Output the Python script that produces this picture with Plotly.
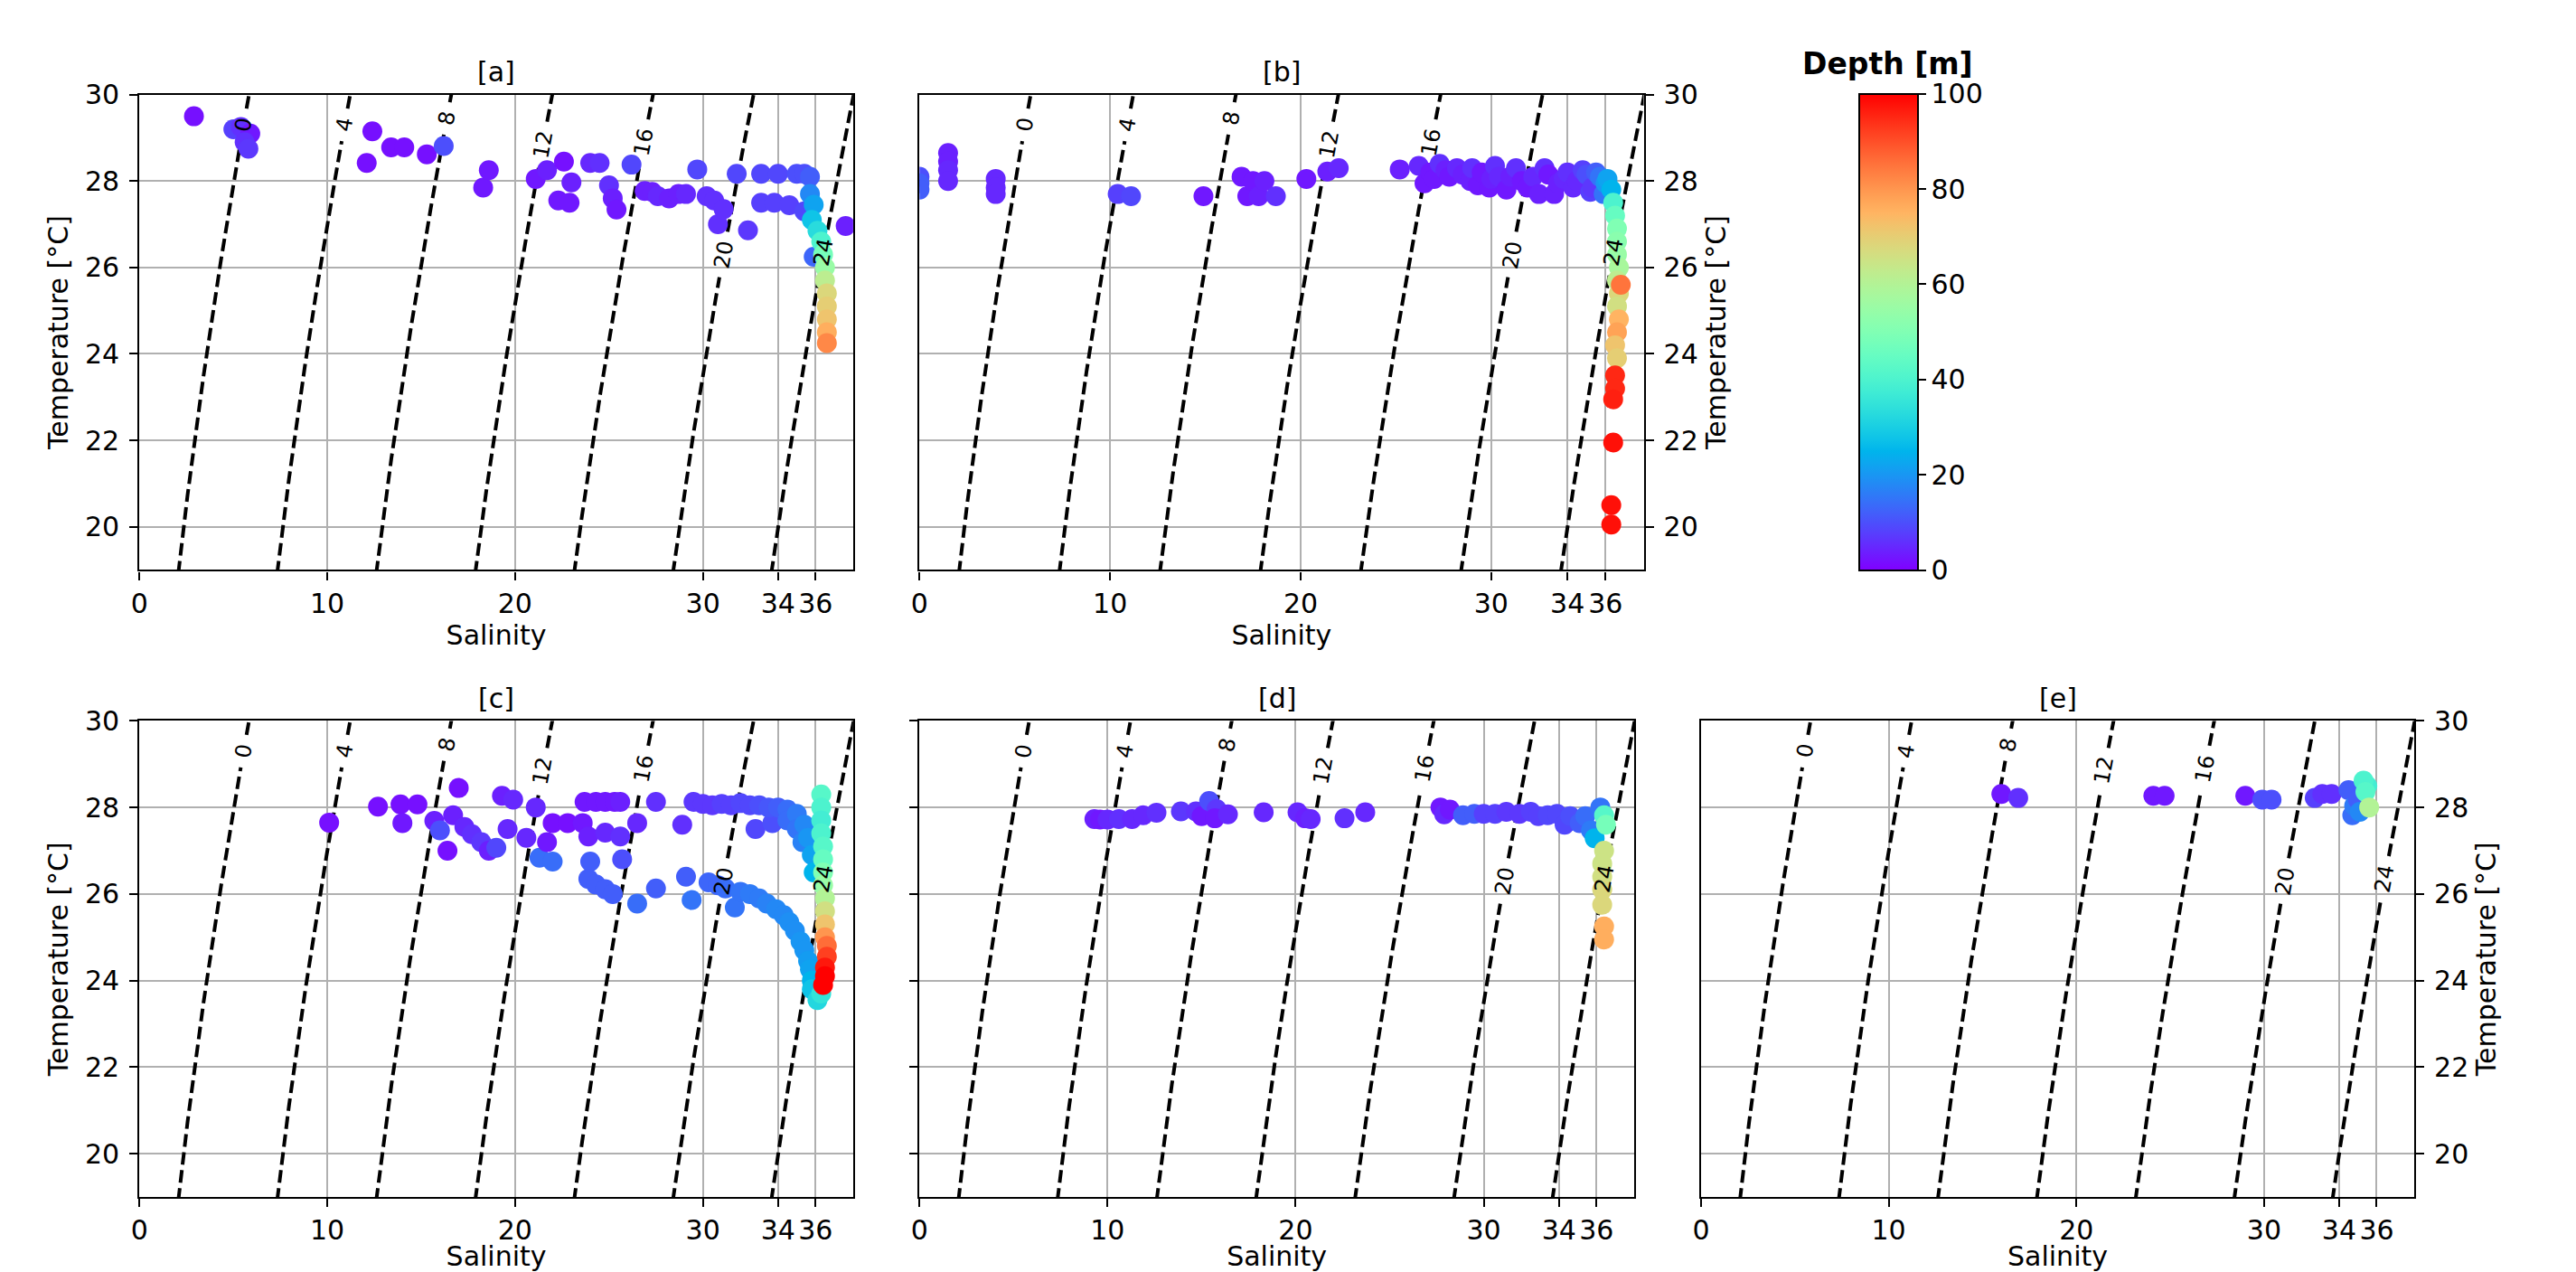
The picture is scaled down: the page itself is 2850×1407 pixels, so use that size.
import numpy as np
import plotly.graph_objects as go

# ------------------------- data -------------------------
sal_a = [2.9, 5.0, 5.4, 5.9, 5.6, 5.8, 12.4, 12.1, 13.4, 14.1, 15.3, 16.2, 18.3, 18.6,
         21.1, 21.7, 22.6, 22.3, 22.9, 23.0, 24.0, 24.5, 25.0, 25.2, 25.4, 26.2, 26.9,
         27.3, 27.6, 28.2, 28.7, 29.1, 29.7, 30.2, 30.6, 30.8, 31.1, 31.8, 32.4, 33.1,
         33.1, 33.8, 34.0, 34.6, 35.0, 35.4, 35.7, 35.4, 35.7, 35.9, 35.8, 36.1, 35.9,
         36.3, 36.4, 36.5, 36.5, 36.6, 36.6, 36.6, 36.6, 36.6, 37.6]
temp_a = [29.5, 29.2, 29.25, 29.1, 28.9, 28.75, 29.15, 28.42, 28.78, 28.78, 28.62, 28.81,
          27.85, 28.25, 28.05, 28.25, 28.45, 27.55, 27.5, 27.97, 28.42, 28.42, 27.9, 27.6,
          27.34, 28.38, 27.77, 27.75, 27.65, 27.6, 27.7, 27.7, 28.27, 27.65, 27.55, 27.0,
          27.35, 28.17, 26.86, 28.17, 27.5, 27.5, 28.17, 27.44, 28.17, 28.17, 28.1, 27.3,
          27.7, 27.45, 27.1, 26.85, 26.25, 26.6, 26.3, 26.0, 25.7, 25.4, 25.1, 24.8, 24.5,
          24.25, 26.96]
depth_a = [2, 8, 6, 3, 6, 7, 2, 2, 2, 2, 2, 10, 3, 3, 3, 4, 2, 3, 3, 4, 5, 6, 6, 4, 3, 9, 4,
           4, 5, 4, 4, 5, 9, 6, 6, 6, 6, 9, 7, 9, 8, 8, 9, 8, 10, 10, 12, 9, 18, 22, 28, 33,
           13, 40, 48, 55, 62, 68, 70, 72, 76, 82, 4]

sal_b = [0.0, 0.0, 0.0, 1.5, 1.5, 1.5, 1.5, 4.0, 4.0, 4.0, 10.4, 11.1, 14.9, 16.9, 17.2,
         17.5, 17.8, 18.1, 18.7, 20.3, 21.4, 22.0, 25.2, 26.2, 26.5, 26.8, 27.0, 27.3,
         27.6, 27.8, 28.2, 28.5, 28.9, 29.0, 29.3, 29.5, 29.9, 30.0, 30.2, 30.4, 30.8,
         31.0, 31.3, 31.6, 31.9, 32.2, 32.5, 32.8, 33.0, 33.3, 33.5, 33.8, 34.0, 34.3,
         34.5, 34.8, 35.0, 35.2, 35.3, 35.5, 35.7, 35.9, 36.0, 36.1, 36.3, 36.4, 36.5,
         36.6, 36.6, 36.6, 36.7, 36.6, 36.7, 36.6, 36.7, 36.6, 36.8, 36.5, 36.6, 36.5,
         36.5, 36.4, 36.4, 36.3, 36.3]
temp_b = [28.1, 27.95, 27.8, 28.65, 28.45, 28.25, 28.0, 28.05, 27.85, 27.7, 27.7, 27.65,
          27.65, 28.1, 27.65, 28.0, 27.65, 28.0, 27.65, 28.05, 28.22, 28.3, 28.27, 28.35,
          27.95, 28.2, 28.05, 28.4, 28.25, 28.1, 28.3, 28.15, 28.0, 28.3, 27.9, 28.2,
          27.85, 28.05, 28.35, 28.1, 27.8, 28.1, 28.3, 28.0, 27.85, 28.1, 27.7, 28.3,
          28.15, 27.7, 27.95, 28.05, 28.2, 27.85, 28.0, 28.25, 28.15, 27.75, 27.85, 28.2,
          28.1, 27.7, 27.95, 28.05, 27.8, 27.5, 27.2, 26.9, 26.6, 26.3, 26.0, 25.7, 25.4,
          25.1, 24.8, 24.5, 25.6, 24.2, 23.9, 23.5, 23.2, 22.95, 21.95, 20.5, 20.05]
depth_b = [10, 12, 12, 4, 4, 5, 5, 5, 5, 5, 8, 9, 3, 3, 3, 3, 4, 4, 6, 3, 4, 5, 4, 5, 3, 3,
           3, 6, 4, 3, 5, 4, 4, 6, 3, 3, 3, 4, 6, 5, 3, 4, 6, 3, 3, 5, 4, 6, 3, 4, 4, 5, 6,
           5, 5, 8, 10, 8, 7, 12, 15, 15, 20, 22, 25, 40, 45, 50, 52, 55, 58, 62, 68, 66,
           75, 78, 85, 72, 70, 95, 95, 96, 98, 98, 98]

sal_c = [10.1, 12.7, 13.9, 14.0, 14.8, 15.7, 16.0, 16.4, 16.7, 17.0, 17.3, 17.7, 18.2,
         18.6, 19.0, 19.3, 19.9, 19.6, 20.6, 21.1, 21.3, 21.7, 22.0, 22.0, 22.8, 23.6,
         23.7, 23.9, 24.0, 24.3, 24.8, 25.3, 25.6, 24.8, 25.6, 25.7, 26.5, 27.5, 28.9,
         29.5, 30.0, 30.5, 31.0, 31.5, 32.0, 32.5, 32.8, 33.0, 33.7, 33.5, 34.0, 34.5,
         34.5, 35.0, 35.0, 35.4, 35.3, 35.6, 35.8, 35.9,
         23.9, 24.3, 24.8, 25.2, 26.5, 27.5, 29.1, 29.4, 30.3, 30.8, 31.2, 31.7, 32.0,
         32.5, 33.0, 33.4, 33.9, 34.3, 34.6, 34.9, 35.2, 35.4, 35.6, 35.7, 35.8, 35.8,
         36.1, 36.3,
         36.3, 36.3, 36.3, 36.3, 36.4, 36.4, 36.4, 36.4, 36.5, 36.5, 36.5, 36.5, 36.6,
         36.6, 36.5, 36.5, 36.4]
temp_c = [27.65, 28.02, 28.07, 27.64, 28.07, 27.69, 27.47, 27.0, 27.82, 28.45, 27.55, 27.38,
          27.2, 27.0, 27.07, 28.27, 28.18, 27.5, 27.3, 28.0, 26.84, 27.2, 26.75, 27.64,
          27.64, 27.64, 28.13, 27.33, 26.75, 28.13, 28.13, 28.13, 28.13, 27.42, 27.33,
          26.8, 27.64, 28.13, 27.6, 28.13, 28.08, 28.05, 28.08, 28.05, 28.1, 28.05, 27.5,
          28.05, 27.64, 28.0, 28.0, 27.95, 27.7, 27.85, 27.5, 27.6, 27.2, 27.3, 26.9, 26.5,
          26.35, 26.22, 26.11, 26.0, 25.78, 26.13, 26.4, 25.86, 26.27, 26.2, 26.13, 25.69,
          26.05, 26.0, 25.9, 25.78, 25.65, 25.51, 25.35, 25.15, 24.9, 24.7, 24.45, 24.26,
          24.0, 23.8, 23.55, 23.7,
          28.3, 28.0, 27.7, 27.4, 27.1, 26.8, 26.5, 26.2, 25.9, 25.6, 25.3, 25.0, 24.8,
          24.55, 24.3, 24.1, 23.9]
depth_c = [2, 2, 2, 3, 2, 4, 10, 2, 4, 2, 5, 6, 7, 4, 9, 4, 5, 5, 5, 5, 14, 3, 14, 2, 2, 3,
           3, 4, 12, 3, 3, 3, 4, 5, 6, 10, 5, 6, 6, 7, 7, 7, 8, 8, 9, 9, 9, 10, 10, 11, 12,
           14, 14, 16, 15, 18, 17, 20, 22, 25,
           12, 12, 12, 12, 14, 12, 12, 15, 13, 13, 14, 15, 15, 16, 16, 17, 18, 18, 19, 19,
           20, 20, 21, 22, 25, 28, 32, 35,
           42, 40, 38, 40, 42, 45, 50, 55, 60, 66, 72, 80, 86, 92, 97, 100, 100]

sal_d = [9.3, 9.6, 10.0, 10.6, 11.3, 11.9, 12.6, 13.9, 14.7, 15.0, 15.4, 15.8, 15.7, 16.4,
         18.3, 20.1, 20.5, 20.8, 22.6, 23.7, 27.7, 27.9, 28.2, 28.9, 29.5, 30.0, 30.6,
         31.2, 31.9, 32.5, 32.9, 33.4, 33.9, 34.3, 34.6, 35.1, 35.4, 35.7, 35.9, 36.2,
         36.4, 36.5, 36.4, 36.3, 36.3, 36.3, 36.3, 36.4, 36.4]
temp_d = [27.73, 27.72, 27.72, 27.73, 27.73, 27.82, 27.88, 27.91, 27.91, 27.8, 28.15, 27.96,
          27.75, 27.84, 27.89, 27.89, 27.75, 27.73, 27.75, 27.89, 28.0, 27.84, 27.95, 27.82,
          27.85, 27.85, 27.85, 27.9, 27.85, 27.9, 27.8, 27.82, 27.85, 27.6, 27.8, 27.64,
          27.8, 27.47, 27.29, 28.0, 27.82, 27.6, 27.0, 26.7, 26.4, 26.1, 25.75, 25.25,
          24.95]
depth_d = [4, 3, 5, 6, 5, 5, 6, 7, 6, 3, 10, 7, 3, 5, 5, 5, 4, 5, 6, 5, 3, 5, 3, 12, 12, 8,
           8, 7, 7, 8, 8, 9, 9, 9, 10, 12, 14, 16, 25, 15, 42, 48, 65, 65, 66, 68, 68, 76,
           76]

sal_e = [16.0, 16.9, 24.1, 24.7, 29.0, 29.9, 30.4, 32.7, 33.1, 33.6, 34.5, 34.7, 34.8,
         35.0, 35.1, 35.5, 35.3, 35.4, 35.6]
temp_e = [28.31, 28.22, 28.27, 28.27, 28.27, 28.18, 28.18, 28.22, 28.31, 28.31, 28.4, 27.82,
          28.04, 28.18, 27.9, 28.5, 28.62, 28.36, 28.0]
depth_e = [3, 6, 3, 3, 3, 10, 10, 8, 6, 6, 12, 14, 16, 12, 18, 38, 40, 42, 60]

sal_ticks = [0, 10, 20, 30, 34, 36]
temp_ticks = [20, 22, 24, 26, 28, 30]
depth_ticks = [0, 20, 40, 60, 80, 100]
sigma_levels = [0, 4, 8, 12, 16, 20, 24]
sigma_label_temps = [29.3, 29.3, 29.45, 28.85, 28.9, 26.3, 26.35]
panel_titles = ["[a]", "[b]", "[c]", "[d]", "[e]"]
S_RANGE = [0, 38]
T_RANGE = [19, 30]


# ------------------------- sea-water density (UNESCO EOS-80, p = 0) -------------------------
def sigma_t(S, T):
    rho_w = (999.842594 + 6.793952e-2 * T - 9.095290e-3 * T ** 2 + 1.001685e-4 * T ** 3
             - 1.120083e-6 * T ** 4 + 6.536332e-9 * T ** 5)
    A = 0.824493 - 4.0899e-3 * T + 7.6438e-5 * T ** 2 - 8.2467e-7 * T ** 3 + 5.3875e-9 * T ** 4
    B = -5.72466e-3 + 1.0227e-4 * T - 1.6546e-6 * T ** 2
    C = 4.8314e-4
    return rho_w + A * S + B * S ** 1.5 + C * S ** 2 - 1000.0


def salinity_on_isopycnal(level, T):
    T = np.asarray(T, dtype=float)
    lo = np.zeros_like(T)
    hi = np.full_like(T, 45.0)
    for _ in range(60):
        mid = 0.5 * (lo + hi)
        f = sigma_t(mid, T) - level
        lo = np.where(f < 0, mid, lo)
        hi = np.where(f >= 0, mid, hi)
    return 0.5 * (lo + hi)


# ------------------------- style / layout -------------------------
FW, FH = 2850, 1407
FONT = "DejaVu Sans"
TICK_FS = 30
LABEL_FS = 24


def fx(px):
    return px / FW


def fy(py):
    return 1 - py / FH


def rainbow(x):
    r = min(1.0, abs(2 * x - 0.5))
    g = np.sin(np.pi * x)
    b = np.cos(np.pi * x / 2)
    return "rgb(%d,%d,%d)" % (round(r * 255), round(max(g, 0) * 255), round(max(b, 0) * 255))


colorscale = [[i / 40, rainbow(i / 40)] for i in range(41)]

panels = [
    dict(S=sal_a, T=temp_a, D=depth_a, x0=154.3, x1=943.9, y0=104.7, y1=630.4, side="left", ylab=True),
    dict(S=sal_b, T=temp_b, D=depth_b, x0=1017.3, x1=1818.5, y0=104.7, y1=630.4, side="right", ylab=True),
    dict(S=sal_c, T=temp_c, D=depth_c, x0=154.3, x1=943.9, y0=797.4, y1=1324.0, side="left", ylab=True),
    dict(S=sal_d, T=temp_d, D=depth_d, x0=1017.3, x1=1808.0, y0=797.4, y1=1324.0, side="left", ylab=False),
    dict(S=sal_e, T=temp_e, D=depth_e, x0=1882.0, x1=2671.0, y0=797.4, y1=1324.0, side="right", ylab=True),
]

fig = go.Figure()
annotations = []
layout_axes = {}

T_line = np.linspace(18.5, 30.5, 481)

for i, p in enumerate(panels):
    n = i + 1
    xa = "x" if n == 1 else "x%d" % n
    ya = "y" if n == 1 else "y%d" % n
    wpx = p["x1"] - p["x0"]
    hpx = p["y1"] - p["y0"]
    sx = wpx / (S_RANGE[1] - S_RANGE[0])
    sy = hpx / (T_RANGE[1] - T_RANGE[0])

    # isopycnals
    for lev, tl in zip(sigma_levels, sigma_label_temps):
        S_line = salinity_on_isopycnal(lev, T_line)
        S_lab = float(salinity_on_isopycnal(lev, np.array([tl]))[0])
        txt = str(lev)
        half_gap = len(txt) * 0.636 * LABEL_FS / 2 + 10
        d = np.hypot((S_line - S_lab) * sx, (T_line - tl) * sy)
        S_plot = np.where(d < half_gap, np.nan, S_line)
        fig.add_trace(go.Scatter(
            x=S_plot, y=T_line, mode="lines", xaxis=xa, yaxis=ya,
            line=dict(color="black", width=4, dash="14px,6px"),
            hoverinfo="skip", showlegend=False, connectgaps=False))
        dT = 0.05
        dS = float(salinity_on_isopycnal(lev, np.array([tl + dT]))[0]) - S_lab
        ang = np.degrees(np.arctan2(dT * sy, dS * sx))
        annotations.append(dict(
            x=S_lab, y=tl, xref=xa, yref=ya, text=txt, showarrow=False,
            textangle=-ang, xanchor="center", yanchor="middle",
            font=dict(family=FONT, size=LABEL_FS, color="black")))

    # observations coloured by depth
    fig.add_trace(go.Scatter(
        x=p["S"], y=p["T"], mode="markers", xaxis=xa, yaxis=ya, showlegend=False,
        marker=dict(size=22, color=p["D"], colorscale=colorscale, cmin=0, cmax=100,
                    line=dict(width=0), opacity=1,
                    showscale=(n == 1),
                    colorbar=dict(
                        x=fx(2057.0), xanchor="left", y=fy(630.6), yanchor="bottom",
                        len=(630.6 - 104.0) / FH, lenmode="fraction",
                        thickness=65, thicknessmode="pixels", xpad=0, ypad=0,
                        outlinewidth=2, outlinecolor="black",
                        ticks="outside", ticklen=8, tickwidth=2, tickcolor="black",
                        tickvals=depth_ticks,
                        tickfont=dict(family=FONT, size=TICK_FS, color="black"))),
    ))

    axis_common = dict(showline=True, linecolor="black", linewidth=2.2, mirror=True,
                       ticks="outside", ticklen=9, tickwidth=2.2, tickcolor="black",
                       showgrid=True, gridcolor="#b0b0b0", gridwidth=2, zeroline=False,
                       automargin=False,
                       tickfont=dict(family=FONT, size=TICK_FS, color="black"))
    xkey = "xaxis" if n == 1 else "xaxis%d" % n
    ykey = "yaxis" if n == 1 else "yaxis%d" % n
    layout_axes[xkey] = dict(
        axis_common, domain=[fx(p["x0"]), fx(p["x1"])], range=S_RANGE, anchor=ya,
        tickmode="array", tickvals=sal_ticks, tickangle=0, ticklabelstandoff=0,
        title=dict(text="Salinity", standoff=4, font=dict(family=FONT, size=TICK_FS, color="black")))
    ydict = dict(
        axis_common, domain=[fy(p["y1"]), fy(p["y0"])], range=T_RANGE, anchor=xa,
        tickmode="array", tickvals=temp_ticks, side=p["side"], tickangle=0,
        ticklabelstandoff=5, showticklabels=p["ylab"])
    if p["ylab"]:
        ydict["title"] = dict(text="Temperature [°C]", standoff=10,
                              font=dict(family=FONT, size=TICK_FS, color="black"))
    layout_axes[ykey] = ydict

    annotations.append(dict(
        x=fx((p["x0"] + p["x1"]) / 2), y=fy(p["y0"] - 25), xref="paper", yref="paper",
        text=panel_titles[i], showarrow=False, xanchor="center", yanchor="middle",
        font=dict(family=FONT, size=TICK_FS, color="black")))

annotations.append(dict(
    x=fx(2088), y=fy(71), xref="paper", yref="paper", text="<b>Depth [m]</b>",
    showarrow=False, xanchor="center", yanchor="middle",
    font=dict(family=FONT, size=33, color="black")))

fig.update_layout(
    width=FW, height=FH, margin=dict(l=0, r=0, t=0, b=0, autoexpand=False),
    paper_bgcolor="white", plot_bgcolor="white",
    font=dict(family=FONT, size=TICK_FS, color="black"),
    annotations=annotations, showlegend=False, **layout_axes)

fig.write_html("out.html", config={"displayModeBar": False},
               post_script="document.body.style.margin='0px';document.body.style.overflow='hidden';")
